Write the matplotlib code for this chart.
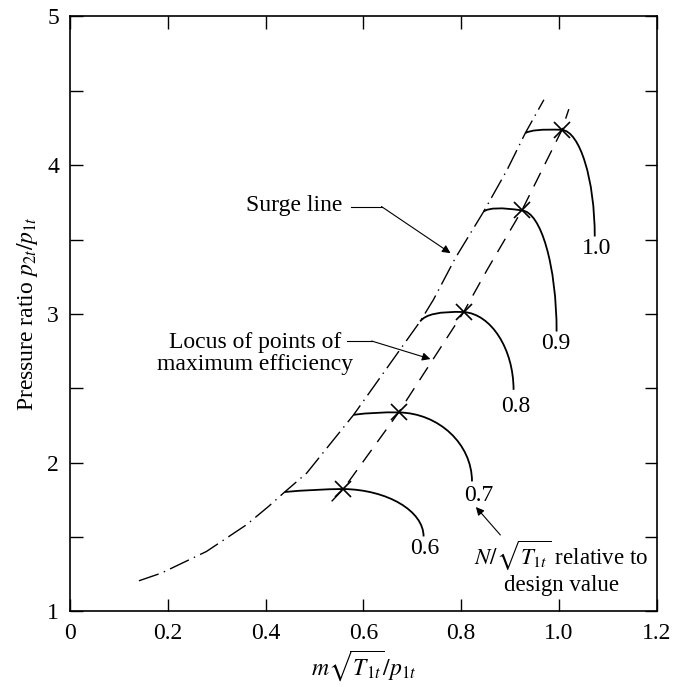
import matplotlib
matplotlib.use('Agg')
import matplotlib.pyplot as plt
from matplotlib.path import Path
from matplotlib.patches import PathPatch

plt.rcParams['font.family'] = 'Liberation Serif'
plt.rcParams['mathtext.fontset'] = 'stix'

# surge line (dash-dot)
surge_x = [0.141, 0.187, 0.279, 0.361, 0.406, 0.439, 0.484, 0.580, 0.716, 0.743, 0.788, 0.846, 0.894, 0.931, 0.969]
surge_y = [1.206, 1.258, 1.403, 1.583, 1.706, 1.803, 1.930, 2.322, 2.950, 3.095, 3.376, 3.689, 3.970, 4.216, 4.440]

# locus of maximum efficiency (dashed)
eff_x = [0.535, 0.559, 0.672, 0.805, 0.853, 0.924, 1.006, 1.020]
eff_y = [1.740, 1.823, 2.338, 3.013, 3.297, 3.696, 4.238, 4.377]

# constant speed lines: start on surge line, max-efficiency point, knee, end
speed_labels = ['0.6', '0.7', '0.8', '0.9', '1.0']
start_x = [0.439, 0.580, 0.716, 0.846, 0.931]
start_y = [1.803, 2.322, 2.950, 3.689, 4.216]
bend_x = [0.500, 0.625, 0.732, 0.862, 0.945]
bend_y = [1.822, 2.342, 3.022, 3.728, 4.246]
peak_x = [0.559, 0.672, 0.805, 0.924, 1.006]
peak_y = [1.823, 2.338, 3.013, 3.696, 4.238]
knee_x = [0.723, 0.822, 0.907, 0.995, 1.073]
knee_y = [1.815, 2.330, 2.990, 3.680, 4.215]
end_x = [0.723, 0.822, 0.907, 0.995, 1.073]
end_y = [1.504, 1.874, 2.490, 2.882, 3.521]

speed_label_x = [0.726, 0.836, 0.911, 0.993, 1.076]
speed_label_y = [1.42, 1.778, 2.378, 2.80, 3.443]

fig = plt.figure(figsize=(6.73, 6.87), dpi=100)
ax = fig.add_axes([0.104, 0.110, 0.872, 0.866])

ax.plot(surge_x, surge_y, color='black', lw=1.0, linestyle=(0, (15, 4, 1, 4)))
ax.plot(eff_x, eff_y, color='black', lw=1.0, linestyle=(0, (11, 7)))

k = 0.55
for i in range(len(speed_labels)):
    p0 = (start_x[i], start_y[i])
    pb = (bend_x[i], bend_y[i])
    pk = (peak_x[i], peak_y[i])
    kn = (knee_x[i], knee_y[i])
    pe = (end_x[i], end_y[i])
    c1 = (pk[0] + k * (kn[0] - pk[0]), pk[1] + k * (kn[1] - pk[1]))
    c2 = (pe[0] + k * (kn[0] - pe[0]), pe[1] + k * (kn[1] - pe[1]))
    verts = [p0, pb, pk, c1, c2, pe]
    codes = [Path.MOVETO, Path.CURVE3, Path.CURVE3, Path.CURVE4, Path.CURVE4, Path.CURVE4]
    ax.add_patch(PathPatch(Path(verts, codes), fill=False, edgecolor='black', lw=1.3))

ax.plot(peak_x, peak_y, linestyle='none', marker='x', markersize=12, mew=1.2, color='black')

for lab, lx, ly in zip(speed_labels, speed_label_x, speed_label_y):
    ax.text(lx, ly, lab, fontsize=17, ha='center', va='center')

arrow = dict(arrowstyle='-|>', lw=0.8, color='black', mutation_scale=12, shrinkA=0, shrinkB=0)

# Surge line label
ax.text(0.459, 3.727, 'Surge line', fontsize=17, ha='center', va='center')
ax.plot([0.574, 0.637], [3.722, 3.722], color='black', lw=0.8)
ax.annotate('', xy=(0.778, 3.409), xytext=(0.637, 3.722), arrowprops=arrow)

# efficiency locus label
ax.text(0.378, 2.733, 'Locus of points of\nmaximum efficiency', fontsize=17,
        ha='center', va='center', multialignment='center', linespacing=1.1)
ax.plot([0.567, 0.617], [2.818, 2.818], color='black', lw=0.8)
ax.annotate('', xy=(0.737, 2.697), xytext=(0.617, 2.818), arrowprops=arrow)

# speed label note
ax.text(1.005, 1.297, '$N/\\sqrt{T_{1t}}$ relative to\ndesign value', fontsize=16.5,
        ha='center', va='center', multialignment='center', linespacing=1.1)
ax.annotate('', xy=(0.830, 1.702), xytext=(0.880, 1.514), arrowprops=arrow)

ax.set_xlim(0, 1.2)
ax.set_ylim(1, 5)
ax.set_xticks([0, 0.2, 0.4, 0.6, 0.8, 1.0, 1.2])
ax.set_xticklabels(['0', '0.2', '0.4', '0.6', '0.8', '1.0', '1.2'])
ax.set_yticks([1, 2, 3, 4, 5])
ax.set_yticks([1.5, 2.5, 3.5, 4.5], minor=True)
ax.tick_params(which='both', direction='in', top=True, right=True, length=9, width=1.0,
               labelsize=17, pad=8)
for s in ax.spines.values():
    s.set_linewidth(1.2)

ax.set_xlabel('$m\\sqrt{T_{1t}}/p_{1t}$', fontsize=17, labelpad=3)
ax.set_ylabel('Pressure ratio $p_{2t}/p_{1t}$', fontsize=17, labelpad=5)

fig.savefig('out.png', dpi=100)
